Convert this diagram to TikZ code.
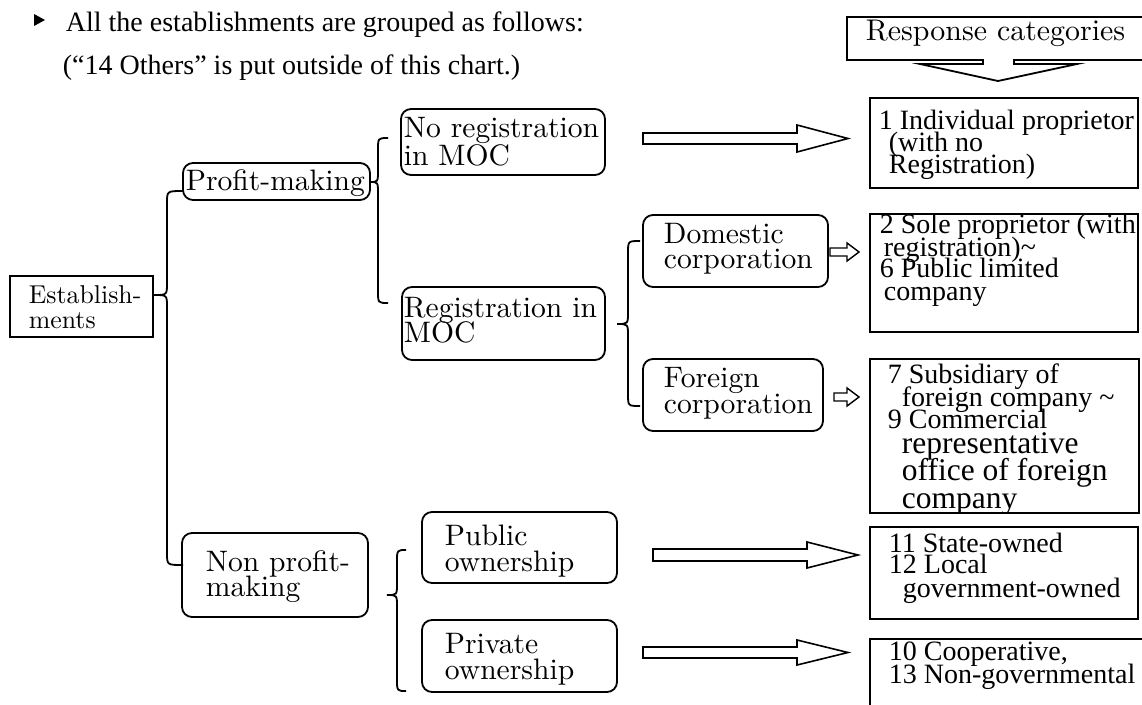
\documentclass[tikz,border=0pt]{standalone}
\usepackage{fontspec}
\newfontfamily\tms{Liberation Serif}
\newfontfamily\cent{lmroman10-regular.otf}
\usetikzlibrary{calc}
\newcommand\mybrace[6]{% tip x, tip y, spine x, top y, bottom y, end x
  \draw[brc] (#6,#4) .. controls (#3,#4) .. (#3,#4+12) -- (#3,#2-12)
    .. controls (#3,#2) .. (#1,#2) .. controls (#3,#2) .. (#3,#2+12)
    -- (#3,#5-12) .. controls (#3,#5) .. (#6,#5);}
\begin{document}
\begin{tikzpicture}[x=1pt,y=-1pt,line width=1.8pt,
  lm/.style={font=\cent\fontsize{29.6}{30}\selectfont, inner sep=0pt, anchor=base west},
  lms/.style={font=\cent\fontsize{25.8}{26}\selectfont, inner sep=0pt, anchor=base west},
  lmr/.style={font=\cent\fontsize{29.9}{30}\selectfont, inner sep=0pt, anchor=base west},
  tm/.style={font=\tms\fontsize{28}{28}\selectfont, inner sep=0pt, anchor=base west},
  tmb/.style={font=\tms\fontsize{31.5}{31.5}\selectfont, inner sep=0pt, anchor=base west},
  sqbox/.style={draw, anchor=north west, inner sep=0pt, outer sep=0pt},
  rndbox/.style={draw, rounded corners=10pt, anchor=north west, inner sep=0pt, outer sep=0pt},
  blk/.style={draw, line width=1.6pt, line join=miter},
  brc/.style={line width=1.8pt}
]
\useasboundingbox (0,0) rectangle (1142,704);
\clip (0,0) rectangle (1142,704);
\fill[white] (0,0) rectangle (1142,704);

% header
\fill (34,14) -- (45,20) -- (34,26) -- cycle;
\node[tm] (h1) at (65,31) {All the establishments are grouped as follows:};
\node[tm] (h2) at (62,74) {(“14 Others” is put outside of this chart.)};

% response categories
\draw (1150,17) -- (847,17) -- (847,60) -- (983,60) -- (983,64) -- (920,64) -- (998,81)
  -- (1077,64) -- (1014,64) -- (1014,60) -- (1150,60);
\node[lmr] (rc) at (865,40) {Response categories};

% left boxes
\node[sqbox, minimum width=143pt, minimum height=61pt] (est) at (10,276) {};
\node[lms] (est1) at (28,303) {Establish-};
\node[lms] (est2) at (28,328) {ments};

\node[rndbox, minimum width=187pt, minimum height=37pt] (pm) at (183,163) {};
\node[lm] (pm1) at (185,190) {Profit-making};

\node[rndbox, minimum width=204pt, minimum height=66pt] (nreg) at (401,109) {};
\node[lm] (nreg1) at (403,137) {No registration};
\node[lm] (nreg2) at (403,165) {in MOC};

\node[rndbox, minimum width=203pt, minimum height=73pt] (reg) at (402,287) {};
\node[lm] (reg1) at (403,317) {Registration in};
\node[lm] (reg2) at (403,342) {MOC};

\node[rndbox, minimum width=185pt, minimum height=72pt] (dom) at (643,215) {};
\node[lm] (dom1) at (663,243) {Domestic};
\node[lm] (dom2) at (663,268) {corporation};

\node[rndbox, minimum width=180pt, minimum height=72pt] (for) at (643,359) {};
\node[lm] (for1) at (663,387) {Foreign};
\node[lm] (for2) at (663,413) {corporation};

\node[rndbox, minimum width=186pt, minimum height=84pt] (np) at (182,533) {};
\node[lm] (np1) at (205,571) {Non profit-};
\node[lm] (np2) at (205,596) {making};

\node[rndbox, minimum width=195pt, minimum height=71pt] (pub) at (422,512) {};
\node[lm] (pub1) at (444,545) {Public};
\node[lm] (pub2) at (444,571) {ownership};

\node[rndbox, minimum width=195pt, minimum height=72pt] (priv) at (422,620) {};
\node[lm] (priv1) at (444,653) {Private};
\node[lm] (priv2) at (444,679) {ownership};

% braces
\mybrace{154}{295}{167}{191}{565}{183}
\mybrace{370}{182}{378}{138}{303}{388}
\mybrace{617}{324}{628}{241}{406}{640}
\mybrace{387}{595}{397}{550}{691}{406}

% block arrows
\draw[blk] (643,133) -- (797,133) -- (797,125) -- (848,138.5) -- (797,152) -- (797,144) -- (643,144) -- cycle;
\draw[blk] (653,549) -- (807,549) -- (807,542) -- (858,555) -- (807,568) -- (807,561) -- (653,561) -- cycle;
\draw[blk] (643,647) -- (797,647) -- (797,640) -- (848,652.5) -- (797,665) -- (797,658) -- (643,658) -- cycle;
\draw[blk, line width=1.4pt] (830,248) -- (847,248) -- (847,243) -- (859,252) -- (847,261) -- (847,256) -- (830,256) -- cycle;
\draw[blk, line width=1.4pt] (834,393) -- (847,393) -- (847,388) -- (859,397) -- (847,406) -- (847,401) -- (834,401) -- cycle;

% right boxes
\node[sqbox, minimum width=268pt, minimum height=90pt] (b1) at (870,98) {};
\node[tm] (b1a) at (878,129) {1 Individual proprietor};
\node[tm] (b1b) at (888,151) {(with no};
\node[tm] (b1c) at (888,173) {Registration)};

\node[sqbox, minimum width=268pt, minimum height=118pt] (b2) at (870,214) {};
\node[tm] (b2a) at (879,233) {2 Sole proprietor (with};
\node[tm] (b2b) at (883,256) {registration)\textasciitilde};
\node[tm] (b2c) at (879,277) {6 Public limited};
\node[tm] (b2d) at (883,300) {company};

\begin{scope}
\clip (870,359) rectangle (1139,513);
\node[tm] (b3a) at (887,383) {7 Subsidiary of};
\node[tm] (b3b) at (901,406) {foreign company \textasciitilde};
\node[tm] (b3c) at (887,428) {9 Commercial};
\node[tmb] (b3d) at (901,453) {representative};
\node[tmb] (b3e) at (901,480) {office of foreign};
\node[tmb] (b3f) at (901,508) {company};
\end{scope}
\node[sqbox, minimum width=269pt, minimum height=154pt] (b3) at (870,359) {};

\node[sqbox, minimum width=268pt, minimum height=92pt] (b4) at (870,527) {};
\node[tm] (b4a) at (888,552) {11 State-owned};
\node[tm] (b4b) at (888,573) {12 Local};
\node[tm] (b4c) at (902,597) {government-owned};

\node[sqbox, minimum width=300pt, minimum height=100pt] (b5) at (870,639) {};
\node[tm] (b5a) at (888,660) {10 Cooperative,};
\node[tm] (b5b) at (888,683) {13 Non-governmental};
\end{tikzpicture}
\end{document}
